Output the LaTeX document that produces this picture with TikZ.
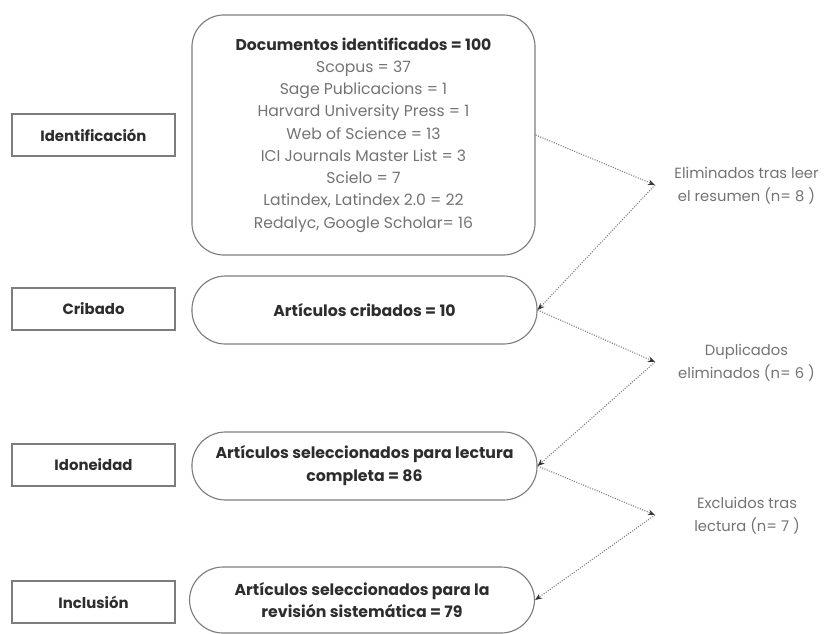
\documentclass[tikz,border=0pt]{standalone}
\usepackage{fontspec}
\setmainfont{Poppins}
\usetikzlibrary{arrows.meta,positioning}
\definecolor{boxgray}{RGB}{125,125,125}
\definecolor{txtdark}{RGB}{45,45,45}
\definecolor{txtlight}{RGB}{115,115,115}

\begin{document}
\begin{tikzpicture}[x=0.025cm,y=-0.025cm,
    stage/.style={draw=boxgray,line width=0.8pt,minimum width=4.075cm,minimum height=1.05cm,
      text=txtdark,font=\fontsize{10.6}{12}\selectfont\bfseries},
    pill/.style={draw=boxgray,line width=0.8pt,rounded corners=0.84cm,minimum width=8.625cm,
      minimum height=1.7cm,align=center,text=txtdark,font=\fontsize{11.2}{16.3}\selectfont\bfseries},
    note/.style={align=center,text=txtlight,font=\fontsize{10.5}{16.3}\selectfont},
    flow/.style={densely dotted,boxgray,line width=0.75pt,
      -{Stealth[length=5pt,width=4pt,color=black!80]}}]
  \useasboundingbox (0,0) rectangle (829,633);

  % stages on the left:
  \node[stage] (ident) at (93.5,135) {Identificación};
  \node[stage] (crib)  at (93.5,309) {Cribado};
  \node[stage] (idon)  at (93.5,465) {Idoneidad};
  \node[stage] (incl)  at (93.5,602) {Inclusión};

  % boxes in the middle:
  \node[draw=boxgray,line width=0.8pt,rounded corners=0.8cm,minimum width=8.575cm,minimum height=6cm,
        align=center,text=txtlight,font=\fontsize{11.1}{15.8}\selectfont] (docs) at (363.5,135)
    {\textcolor{txtdark}{\bfseries Documentos identificados = 100}\\
     Scopus = 37\\
     Sage Publicacions = 1\\
     Harvard University Press = 1\\
     Web of Science = 13\\
     ICI Journals Master List = 3\\
     Scielo = 7\\
     Latindex, Latindex 2.0 = 22\\
     Redalyc, Google Scholar= 16};
  \node[pill] (cribart) at (364.5,310) {Artículos cribados = 10};
  \node[pill] (idonart) at (364.5,466) {Artículos seleccionados para lectura\\completa = 86};
  \node[pill,minimum height=1.65cm] (inclart) at (362,600) {Artículos seleccionados para la\\revisión sistemática = 79};

  % points on the right:
  \coordinate (d1) at (655,185);
  \coordinate (d2) at (655,362);
  \coordinate (d3) at (655,515);

  \node[note] (elim) at (746.5,186) {Eliminados tras leer\\el resumen (n= 8 )};
  \node[note] (dupl) at (746.5,363) {Duplicados\\eliminados (n= 6 )};
  \node[note] (excl) at (747,516) {Excluidos tras\\lectura (n= 7 )};

  % $flow$:
  \draw[flow] (docs.east) -- (d1);
  \draw[flow] (d1) -- (cribart.east);
  \draw[flow] (cribart.east) -- (d2);
  \draw[flow] (d2) -- (idonart.east);
  \draw[flow] (idonart.east) -- (d3);
  \draw[flow] (d3) -- (inclart.east);
\end{tikzpicture}
\end{document}
